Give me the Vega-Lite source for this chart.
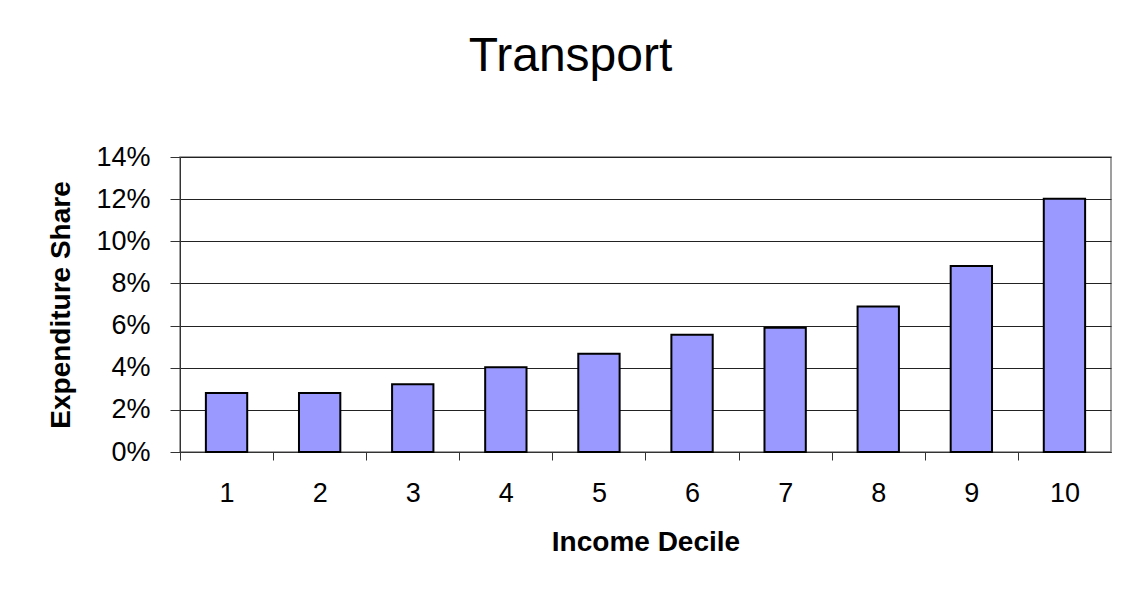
{
  "$schema": "https://vega.github.io/schema/vega-lite/v6.json",
  "autosize": {"type": "none"},
  "padding": {"left": 180, "top": 157, "right": 18, "bottom": 137},
  "width": 931,
  "height": 295,
  "background": "white",
  "title": {
    "text": "Transport",
    "font": "Liberation Sans",
    "fontSize": 48,
    "fontWeight": "normal",
    "color": "black",
    "anchor": "middle",
    "frame": "group",
    "dx": -75,
    "baseline": "alphabetic",
    "offset": 24
  },
  "data": {
    "values": [
      {"decile": "1", "share": 0.028},
      {"decile": "2", "share": 0.028},
      {"decile": "3", "share": 0.0322},
      {"decile": "4", "share": 0.0402},
      {"decile": "5", "share": 0.0466},
      {"decile": "6", "share": 0.0556},
      {"decile": "7", "share": 0.059},
      {"decile": "8", "share": 0.069},
      {"decile": "9", "share": 0.0883},
      {"decile": "10", "share": 0.1202}
    ]
  },
  "mark": {"type": "bar", "fill": "#9999FF", "stroke": "black", "strokeWidth": 2},
  "encoding": {
    "x": {
      "field": "decile",
      "type": "ordinal",
      "sort": null,
      "scale": {"paddingInner": 0.556, "paddingOuter": 0.278},
      "axis": {
        "title": "Income Decile",
        "titleFont": "Liberation Sans",
        "titleFontSize": 28,
        "titleFontWeight": "bold",
        "titleColor": "black",
        "titlePadding": 22,
        "labelFont": "Liberation Sans",
        "labelFontSize": 27,
        "labelColor": "black",
        "labelAngle": 0,
        "labelPadding": 20,
        "bandPosition": 0,
        "tickOffset": -25.9,
        "labelOffset": 25.9,
        "tickSize": 8,
        "tickColor": "#333",
        "domainColor": "#333",
        "grid": false
      }
    },
    "y": {
      "field": "share",
      "type": "quantitative",
      "scale": {"domain": [0, 0.14], "nice": false},
      "axis": {
        "title": "Expenditure Share",
        "titleFont": "Liberation Sans",
        "titleFontSize": 28,
        "titleFontWeight": "bold",
        "titleColor": "black",
        "titlePadding": 20,
        "labelFont": "Liberation Sans",
        "labelFontSize": 27,
        "labelColor": "black",
        "labelPadding": 20,
        "values": [0, 0.02, 0.04, 0.06, 0.08, 0.1, 0.12, 0.14],
        "format": ".0%",
        "tickSize": 10,
        "tickColor": "#333",
        "domainColor": "#333",
        "grid": true,
        "gridColor": "#222",
        "gridWidth": 1
      }
    }
  },
  "config": {
    "view": {"stroke": "#808080", "strokeWidth": 1.5}
  }
}
